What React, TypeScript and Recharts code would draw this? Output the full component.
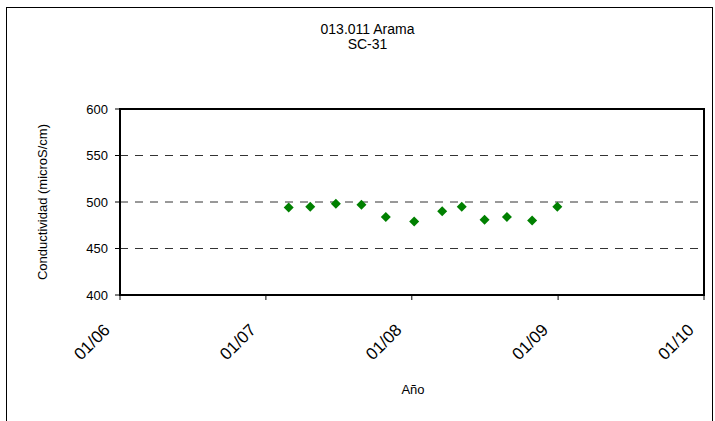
import React from 'react'
import { ScatterChart, Scatter, XAxis, YAxis, CartesianGrid, ReferenceArea } from 'recharts'

const fechas = [
  '2007-02-27', '2007-04-22', '2007-06-25', '2007-08-28', '2007-10-28', '2008-01-07',
  '2008-03-17', '2008-05-05', '2008-07-01', '2008-08-26', '2008-10-28', '2008-12-30',
]
const conductividad = [494, 495, 498, 497, 484, 479, 490, 495, 481, 484, 480, 495]
const xTicks = ['2006-01-01', '2007-01-01', '2008-01-01', '2009-01-01', '2010-01-01']
const yTicks = [400, 450, 500, 550, 600]

const toTime = (s: string) => new Date(s + 'T00:00:00Z').getTime()

const data = fechas.map((f, i) => ({ t: toTime(f), v: conductividad[i] }))
const tickTimes = xTicks.map(toTime)

const FONT = '"Liberation Sans", Arial, sans-serif'

function fmtTick(v: number) {
  const d = new Date(v)
  const mm = String(d.getUTCMonth() + 1).padStart(2, '0')
  const yy = String(d.getUTCFullYear() % 100).padStart(2, '0')
  return `${mm}/${yy}`
}

function XTick(props: any) {
  const { x, y, payload } = props
  const tx = x - 9
  const ty = y + 29
  return (
    <text x={tx} y={ty} transform={`rotate(-45 ${tx} ${ty})`} textAnchor="end"
      fontSize={17} fontFamily={FONT} fill="#000">
      {fmtTick(payload.value)}
    </text>
  )
}

function Diamond(props: any) {
  const { cx, cy } = props
  const r = 5
  return <path d={`M${cx},${cy - r}L${cx + r},${cy}L${cx},${cy + r}L${cx - r},${cy}Z`} fill="#008000" />
}

export default function App() {
  return (
    <div style={{ position: 'absolute', left: 0, top: 0, width: 715, height: 421, overflow: 'hidden', background: '#fff' }}>
      <div style={{ position: 'absolute', left: 6, top: 7, width: 705, height: 430, border: '1px solid #000' }} />
      <div style={{ position: 'absolute', left: 0, width: 735, top: 22, textAlign: 'center', fontFamily: FONT, fontSize: 14, lineHeight: '15px', color: '#000' }}>
        <div>013.011 Arama</div>
        <div>SC-31</div>
      </div>
      <div style={{ position: 'absolute', left: 0, top: 0 }}>
        <ScatterChart width={715} height={421} margin={{ top: 109, right: 11, left: 0, bottom: 0 }}>
          <CartesianGrid horizontal vertical={false} stroke="#333" strokeDasharray="8 7"
            horizontalValues={[450, 500, 550]} />
          <XAxis dataKey="t" type="number" domain={[tickTimes[0], tickTimes[4]]} ticks={tickTimes}
            height={126} tick={<XTick />} tickSize={5} tickLine={{ stroke: '#000' }}
            axisLine={{ stroke: '#000', strokeWidth: 2 }} interval={0}
            label={{
              content: () => (
                <text x={413} y={394} textAnchor="middle" fontSize={13} fontFamily={FONT} fill="#000">Año</text>
              ),
            }} />
          <YAxis dataKey="v" type="number" domain={[400, 600]} ticks={yTicks} width={120}
            tickSize={5} tickMargin={7} tickLine={{ stroke: '#000' }}
            axisLine={{ stroke: '#000', strokeWidth: 2 }}
            tick={{ fontSize: 13, fontFamily: FONT, fill: '#000' }}
            label={{
              content: () => (
                <text x={47} y={202} transform="rotate(-90 47 202)" textAnchor="middle"
                  fontSize={13} fontFamily={FONT} fill="#000">Conductividad (microS/cm)</text>
              ),
            }} />
          <ReferenceArea x1={tickTimes[0]} x2={tickTimes[4]} y1={400} y2={600}
            fill="none" fillOpacity={0} stroke="#000" strokeWidth={2} ifOverflow="visible" />
          <Scatter data={data} shape={<Diamond />} isAnimationActive={false} />
        </ScatterChart>
      </div>
    </div>
  )
}
